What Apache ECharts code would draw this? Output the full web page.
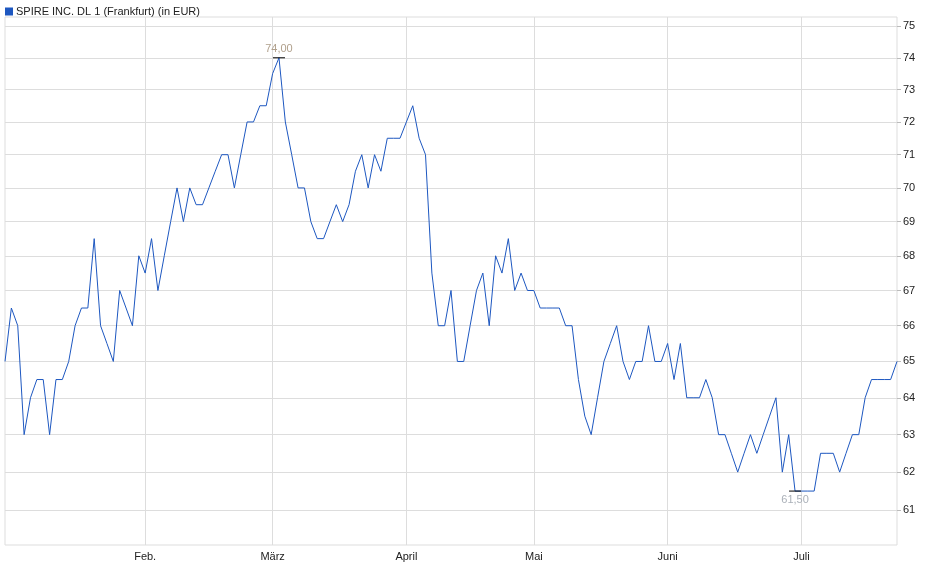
<!DOCTYPE html>
<html><head><meta charset="utf-8">
<script src="https://cdn.jsdelivr.net/npm/echarts@6/dist/echarts.min.js"></script>
<style>html,body{margin:0;padding:0;background:#fff}#c{width:940px;height:579px}</style>
</head><body><div id="c"></div>
<script>
const seriesName = 'SPIRE INC. DL 1 (Frankfurt) (in EUR)';
const prices = [
65,66.5,66,63,64,64.5,64.5,63,64.5,64.5,65,66,66.5,66.5,68.5,66,65.5,65,67,66.5,66,68,
67.5,68.5,67,68,69,70,69,70,69.5,69.5,70,70.5,71,71,70,71,72,72,72.5,72.5,
73.5,74,72,71,70,70,69,68.5,68.5,69,69.5,69,69.5,70.5,71,70,71,70.5,71.5,71.5,71.5,
72,72.5,71.5,71,67.5,66,66,67,65,65,66,67,67.5,66,68,67.5,68.5,67,67.5,67,
67,66.5,66.5,66.5,66.5,66,66,64.5,63.5,63,64,65,65.5,66,65,64.5,65,65,66,65,65,
65.5,64.5,65.5,64,64,64,64.5,64,63,63,62.5,62,62.5,63,62.5,63,63.5,64,62,63,61.5,
61.5,61.5,61.5,62.5,62.5,62.5,62,62.5,63,63,64,64.5,64.5,64.5,64.5,65
];
const yTicks = [61,62,63,64,65,66,67,68,69,70,71,72,73,74,75];
const monthNames = ['Jan.','Feb.','März','April','Mai','Juni','Juli'];
const holidays = ['2025-04-18','2025-04-21','2025-05-01'];

// trading-day categories
const dates = [];
let d = new Date(Date.UTC(2025,0,2));
while (dates.length < prices.length) {
  const wd = d.getUTCDay();
  const s = d.toISOString().slice(0,10);
  if (wd !== 0 && wd !== 6 && holidays.indexOf(s) < 0) dates.push(s);
  d = new Date(d.getTime() + 86400000);
}
const isMonthStart = (i) => i > 0 && dates[i].slice(5,7) !== dates[i-1].slice(5,7);
let maxI = 0, minI = 0;
prices.forEach((v,i)=>{ if(v>prices[maxI]) maxI=i; if(v<prices[minI]) minI=i; });
const fmt = v => v.toFixed(2).replace('.',',');

const chart = echarts.init(document.getElementById('c'));
chart.setOption({
  animation:false,
  textStyle:{fontFamily:'Liberation Sans, Arial, sans-serif'},
  legend:{left:0,top:1,icon:'rect',itemWidth:8,itemHeight:8,itemGap:4,
    textStyle:{fontSize:11,color:'#222',padding:[0,0,0,-2]},data:[seriesName]},
  grid:{left:5,right:43,top:17,bottom:34,show:true,borderColor:'#ddd',borderWidth:1},
  xAxis:{type:'category',data:dates,boundaryGap:false,
    axisLine:{show:false},axisTick:{show:false},
    axisLabel:{interval:(i)=>isMonthStart(i),fontSize:11,color:'#222',margin:6,
      formatter:(v)=>monthNames[parseInt(v.slice(5,7),10)-1]},
    splitLine:{show:true,interval:(i)=>isMonthStart(i),lineStyle:{color:'#ddd'}}},
  yAxis:{type:'log',logBase:10,min:60.1,max:75.3,position:'right',
    axisLine:{show:false},
    axisTick:{show:true,customValues:yTicks,length:4,lineStyle:{color:'#bbb'}},
    axisLabel:{customValues:yTicks,fontSize:11,color:'#222',margin:6,formatter:v=>String(Math.round(v))},
    splitLine:{show:true,lineStyle:{color:'#ddd'}}},
  series:[{name:seriesName,type:'line',data:prices,symbol:'none',
    lineStyle:{color:'#1d57c0',width:1},itemStyle:{color:'#1d57c0'},
    markPoint:{symbol:'rect',symbolSize:[12,1],itemStyle:{color:'#000'},
      data:[
        {coord:[maxI,prices[maxI]],value:prices[maxI],label:{show:true,position:'top',distance:3,formatter:fmt(prices[maxI]),color:'#b0a08c',fontSize:11}},
        {coord:[minI,prices[minI]],value:prices[minI],label:{show:true,position:'bottom',distance:3,formatter:fmt(prices[minI]),color:'#aab0b8',fontSize:11}}
      ]}}]
});
</script></body></html>
